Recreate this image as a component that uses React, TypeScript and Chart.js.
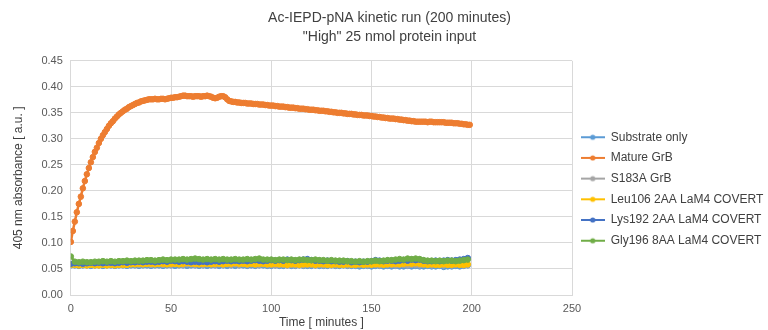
import React, { useEffect, useRef } from "react";
import { Chart, registerables } from "chart.js";

Chart.register(...registerables);

const TITLE_LINES = ["Ac-IEPD-pNA kinetic run (200 minutes)", "\"High\" 25 nmol protein input"];
const X_TITLE = "Time [ minutes ]";
const Y_TITLE = "405 nm absorbance [ a.u. ]";

const SERIES_NAMES = [
  "Substrate only",
  "Mature GrB",
  "S183A GrB",
  "Leu106 2AA LaM4 COVERT",
  "Lys192 2AA LaM4 COVERT",
  "Gly196 8AA LaM4 COVERT",
];
const SERIES_COLORS = ["#5B9BD5", "#ED7D31", "#A5A5A5", "#FFC000", "#4472C4", "#70AD47"];

// sampling times (minutes)
const timeFine = Array.from({ length: 200 }, (_, i) => i);
const timeCoarse = Array.from({ length: 100 }, (_, i) => i * 2);

const matureGrB = [
  0.102, 0.123, 0.141, 0.159, 0.175, 0.189, 0.205, 0.219, 0.232, 0.244,
  0.255, 0.265, 0.275, 0.283, 0.292, 0.300, 0.307, 0.313, 0.319, 0.325,
  0.330, 0.334, 0.339, 0.343, 0.347, 0.350, 0.353, 0.356, 0.358, 0.361,
  0.363, 0.365, 0.367, 0.369, 0.370, 0.372, 0.373, 0.374, 0.375, 0.376,
  0.376, 0.376, 0.377, 0.376, 0.376, 0.377, 0.377, 0.376, 0.377, 0.378,
  0.379, 0.379, 0.380, 0.380, 0.381, 0.382, 0.383, 0.383, 0.382, 0.382,
  0.382, 0.381, 0.382, 0.382, 0.382, 0.381, 0.382, 0.382, 0.383, 0.382,
  0.381, 0.379, 0.378, 0.379, 0.381, 0.382, 0.382, 0.380, 0.376, 0.373,
  0.372, 0.371, 0.371, 0.370, 0.370, 0.369, 0.369, 0.369, 0.368, 0.368,
  0.368, 0.367, 0.367, 0.367, 0.366, 0.366, 0.366, 0.365, 0.365, 0.364,
  0.364, 0.364, 0.363, 0.363, 0.362, 0.362, 0.362, 0.361, 0.361, 0.360,
  0.360, 0.360, 0.359, 0.359, 0.358, 0.358, 0.358, 0.357, 0.357, 0.356,
  0.356, 0.356, 0.355, 0.355, 0.354, 0.354, 0.354, 0.353, 0.353, 0.352,
  0.352, 0.351, 0.351, 0.350, 0.350, 0.350, 0.349, 0.349, 0.348, 0.348,
  0.348, 0.347, 0.347, 0.346, 0.346, 0.346, 0.345, 0.345, 0.345, 0.344,
  0.344, 0.343, 0.343, 0.342, 0.342, 0.341, 0.341, 0.340, 0.340, 0.339,
  0.339, 0.339, 0.338, 0.338, 0.337, 0.337, 0.336, 0.336, 0.335, 0.335,
  0.334, 0.334, 0.333, 0.333, 0.333, 0.333, 0.333, 0.333, 0.332, 0.333,
  0.333, 0.332, 0.332, 0.332, 0.332, 0.332, 0.332, 0.331, 0.331, 0.331,
  0.331, 0.330, 0.330, 0.330, 0.329, 0.329, 0.328, 0.328, 0.327, 0.327,
];

const substrateOnly = [
  0.057, 0.057, 0.056, 0.057, 0.057, 0.056, 0.057, 0.057, 0.056, 0.057,
  0.057, 0.056, 0.057, 0.057, 0.056, 0.057, 0.057, 0.056, 0.057, 0.057,
  0.056, 0.057, 0.057, 0.056, 0.057, 0.057, 0.056, 0.057, 0.057, 0.056,
  0.057, 0.057, 0.056, 0.057, 0.056, 0.057, 0.057, 0.056, 0.057, 0.056,
  0.057, 0.056, 0.057, 0.057, 0.056, 0.057, 0.056, 0.057, 0.057, 0.056,
  0.056, 0.057, 0.056, 0.056, 0.057, 0.056, 0.056, 0.057, 0.056, 0.056,
  0.056, 0.057, 0.056, 0.056, 0.056, 0.057, 0.056, 0.056, 0.057, 0.056,
  0.056, 0.056, 0.055, 0.056, 0.056, 0.055, 0.056, 0.056, 0.055, 0.056,
  0.055, 0.056, 0.055, 0.055, 0.056, 0.055, 0.056, 0.055, 0.055, 0.056,
  0.055, 0.055, 0.056, 0.054, 0.055, 0.055, 0.056, 0.055, 0.056, 0.057,
];

const s183aGrB = [
  0.059, 0.059, 0.058, 0.059, 0.059, 0.058, 0.059, 0.058, 0.059, 0.059,
  0.059, 0.058, 0.059, 0.059, 0.058, 0.059, 0.059, 0.058, 0.059, 0.059,
  0.058, 0.059, 0.059, 0.058, 0.059, 0.058, 0.059, 0.059, 0.058, 0.059,
  0.059, 0.058, 0.059, 0.058, 0.059, 0.059, 0.058, 0.059, 0.058, 0.059,
  0.058, 0.059, 0.058, 0.059, 0.058, 0.059, 0.058, 0.058, 0.059, 0.058,
  0.058, 0.057, 0.058, 0.058, 0.057, 0.058, 0.057, 0.058, 0.057, 0.058,
  0.058, 0.057, 0.058, 0.057, 0.058, 0.058, 0.057, 0.058, 0.058, 0.057,
  0.058, 0.057, 0.058, 0.058, 0.057, 0.058, 0.058, 0.057, 0.058, 0.058,
  0.058, 0.057, 0.058, 0.058, 0.057, 0.058, 0.058, 0.057, 0.058, 0.058,
  0.057, 0.058, 0.058, 0.057, 0.058, 0.057, 0.058, 0.058, 0.057, 0.058,
];

const leu106 = [
  0.058, 0.058, 0.057, 0.058, 0.057, 0.058, 0.057, 0.057, 0.058, 0.057,
  0.058, 0.057, 0.058, 0.058, 0.058, 0.059, 0.059, 0.060, 0.059, 0.060,
  0.060, 0.059, 0.060, 0.060, 0.059, 0.060, 0.060, 0.059, 0.060, 0.061,
  0.060, 0.060, 0.059, 0.060, 0.060, 0.059, 0.060, 0.060, 0.059, 0.060,
  0.060, 0.061, 0.060, 0.060, 0.059, 0.060, 0.059, 0.060, 0.060, 0.059,
  0.059, 0.060, 0.059, 0.059, 0.058, 0.059, 0.059, 0.058, 0.059, 0.059,
  0.059, 0.058, 0.059, 0.059, 0.058, 0.058, 0.059, 0.058, 0.058, 0.059,
  0.058, 0.058, 0.059, 0.058, 0.059, 0.058, 0.059, 0.059, 0.058, 0.059,
  0.059, 0.060, 0.059, 0.060, 0.061, 0.060, 0.061, 0.060, 0.059, 0.058,
  0.059, 0.058, 0.058, 0.059, 0.058, 0.058, 0.059, 0.058, 0.058, 0.059,
];

const lys192 = [
  0.060, 0.061, 0.061, 0.060, 0.061, 0.062, 0.061, 0.062, 0.061, 0.062,
  0.062, 0.061, 0.062, 0.063, 0.062, 0.063, 0.063, 0.064, 0.063, 0.064,
  0.064, 0.063, 0.064, 0.065, 0.064, 0.066, 0.065, 0.064, 0.065, 0.064,
  0.063, 0.064, 0.063, 0.064, 0.063, 0.064, 0.065, 0.064, 0.065, 0.066,
  0.065, 0.066, 0.065, 0.066, 0.065, 0.066, 0.067, 0.066, 0.065, 0.066,
  0.067, 0.066, 0.067, 0.066, 0.068, 0.067, 0.066, 0.067, 0.068, 0.069,
  0.067, 0.066, 0.066, 0.065, 0.066, 0.065, 0.065, 0.064, 0.064, 0.065,
  0.063, 0.064, 0.063, 0.064, 0.064, 0.065, 0.067, 0.066, 0.065, 0.066,
  0.066, 0.065, 0.066, 0.067, 0.066, 0.068, 0.067, 0.068, 0.066, 0.065,
  0.065, 0.066, 0.065, 0.066, 0.067, 0.066, 0.067, 0.068, 0.069, 0.071,
];

const gly196 = [
  0.074, 0.064, 0.063, 0.064, 0.063, 0.063, 0.064, 0.064, 0.065, 0.064,
  0.065, 0.064, 0.065, 0.065, 0.066, 0.065, 0.066, 0.066, 0.066, 0.067,
  0.067, 0.066, 0.067, 0.068, 0.067, 0.068, 0.068, 0.068, 0.069, 0.068,
  0.069, 0.070, 0.069, 0.068, 0.069, 0.068, 0.069, 0.068, 0.069, 0.068,
  0.068, 0.069, 0.068, 0.068, 0.069, 0.068, 0.069, 0.070, 0.068, 0.068,
  0.068, 0.067, 0.068, 0.068, 0.067, 0.068, 0.067, 0.068, 0.068, 0.067,
  0.067, 0.068, 0.067, 0.067, 0.066, 0.067, 0.066, 0.066, 0.066, 0.065,
  0.065, 0.064, 0.065, 0.064, 0.065, 0.065, 0.066, 0.065, 0.066, 0.067,
  0.067, 0.068, 0.069, 0.068, 0.070, 0.069, 0.070, 0.069, 0.067, 0.066,
  0.066, 0.065, 0.066, 0.065, 0.066, 0.066, 0.065, 0.066, 0.067, 0.068,
];

const SERIES_VALUES = [substrateOnly, matureGrB, s183aGrB, leu106, lys192, gly196];
const SERIES_TIMES = [timeCoarse, timeFine, timeCoarse, timeCoarse, timeCoarse, timeCoarse];

const X_MIN = 0, X_MAX = 250, X_STEP = 50;
const Y_MIN = 0, Y_MAX = 0.45, Y_STEP = 0.05;

const FONT = "'Liberation Sans', Arial, sans-serif";

function makeLegendSymbol(color: string): HTMLCanvasElement {
  const c = document.createElement("canvas");
  c.width = 24;
  c.height = 8;
  const ctx = c.getContext("2d")!;
  ctx.strokeStyle = color;
  ctx.lineWidth = 2;
  ctx.beginPath();
  ctx.moveTo(0, 4);
  ctx.lineTo(24, 4);
  ctx.stroke();
  ctx.fillStyle = color;
  ctx.beginPath();
  ctx.arc(12, 4, 2.6, 0, Math.PI * 2);
  ctx.fill();
  return c;
}

export default function App() {
  const canvasRef = useRef<HTMLCanvasElement | null>(null);

  useEffect(() => {
    document.body.style.margin = "0";
    const canvas = canvasRef.current;
    if (!canvas) return;
    const symbols = SERIES_COLORS.map(makeLegendSymbol);

    const datasets = SERIES_NAMES.map((name, i) => ({
      label: name,
      data: SERIES_TIMES[i].map((t, j) => ({ x: t, y: SERIES_VALUES[i][j] })),
      borderColor: SERIES_COLORS[i],
      backgroundColor: SERIES_COLORS[i],
      pointBackgroundColor: SERIES_COLORS[i],
      pointBorderColor: SERIES_COLORS[i],
      borderWidth: 2.5,
      pointRadius: 2.8,
      pointBorderWidth: 1,
      tension: 0,
      fill: false,
      order: SERIES_NAMES.length - i,
    }));

    const chart = new Chart(canvas, {
      type: "line",
      data: { datasets },
      options: {
        animation: false,
        responsive: false,
        devicePixelRatio: 1,
        layout: { padding: { left: 11, right: 0, top: 0, bottom: 0 } },
        plugins: {
          tooltip: { enabled: false },
          title: {
            display: true,
            text: TITLE_LINES,
            color: "#404040",
            font: { family: FONT, size: 14, weight: "normal", lineHeight: 1.35 },
            padding: { top: 9, bottom: 14 },
          },
          legend: {
            display: true,
            position: "right",
            fullSize: false,
            maxWidth: 196,
            title: { display: true, text: "", padding: { top: 11, bottom: 11 }, font: { size: 0.1, lineHeight: 1 } },
            labels: {
              usePointStyle: true,
              pointStyleWidth: 24,
              boxHeight: 8,
              padding: 8.7,
              color: "#404040",
              font: { family: FONT, size: 12 },
              sort: (a: any, b: any) => a.datasetIndex - b.datasetIndex,
              generateLabels: (ch: any) => {
                const items = Chart.defaults.plugins.legend.labels.generateLabels(ch);
                return items.map((it: any) => ({ ...it, pointStyle: symbols[it.datasetIndex] }));
              },
            },
          },
        },
        scales: {
          x: {
            type: "linear",
            min: X_MIN,
            max: X_MAX,
            ticks: { stepSize: X_STEP, color: "#595959", font: { family: FONT, size: 11 }, padding: 7.4 },
            grid: { color: "#d9d9d9", drawTicks: false, lineWidth: 1 },
            border: { color: "#d9d9d9" },
            title: {
              display: true,
              text: X_TITLE,
              color: "#404040",
              font: { family: FONT, size: 12 },
              padding: { top: -7.4, bottom: 0 },
            },
          },
          y: {
            type: "linear",
            min: Y_MIN,
            max: Y_MAX,
            ticks: {
              stepSize: Y_STEP,
              color: "#595959",
              font: { family: FONT, size: 11 },
              padding: 8,
              callback: (v: any) => Number(v).toFixed(2),
            },
            grid: { color: "#d9d9d9", drawTicks: false, lineWidth: 1 },
            border: { color: "#d9d9d9" },
            title: {
              display: true,
              text: Y_TITLE,
              color: "#404040",
              font: { family: FONT, size: 12 },
              padding: { top: 0, bottom: 8 },
            },
          },
        },
      },
    });
    return () => chart.destroy();
  }, []);

  return (
    <div style={{ width: 768, height: 330, background: "#fff" }}>
      <canvas ref={canvasRef} width={768} height={330} style={{ display: "block" }} />
    </div>
  );
}
